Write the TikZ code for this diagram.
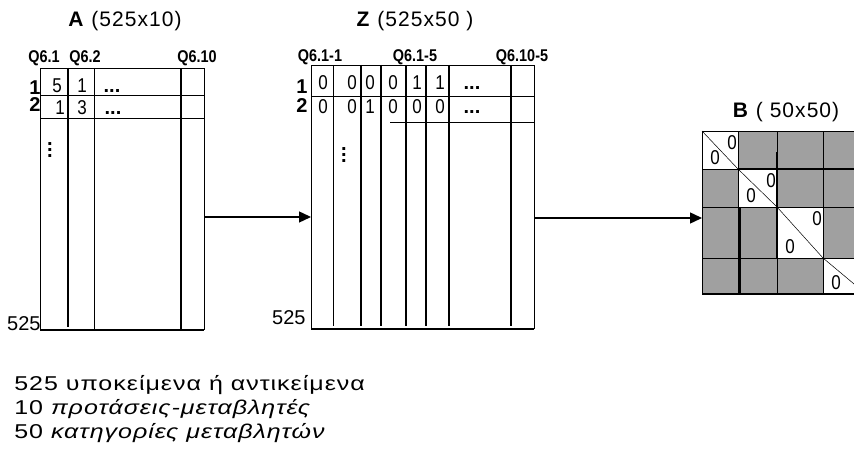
\documentclass[tikz,border=0pt]{standalone}
\usepackage{fontspec,xcolor,tikz}
\setmainfont{Liberation Sans}
\usetikzlibrary{arrows.meta}
\definecolor{ink}{HTML}{000000}
\definecolor{feld}{HTML}{A0A0A0}
\newcommand{\titel}{\fontsize{21}{24}\selectfont\addfontfeatures{LetterSpace=5}}
\newcommand{\spalte}{\fontsize{17}{20}\selectfont\bfseries}
\newcommand{\zahl}{\fontsize{20}{23}\selectfont}
\newcommand{\legende}{\fontsize{20}{24}\selectfont\addfontfeatures{LetterSpace=4}}
\newcommand{\punkte}{\vbox{\baselineskip6pt\lineskiplimit0pt\hbox{.}\hbox{.}\hbox{.}}}
\tikzset{duenn/.style={ink,line width=0.7pt},
  mittel/.style={ink,line width=1.1pt},
  dick/.style={ink,line width=1.6pt},
  pfeil/.style={ink,line width=1.4pt,-{Triangle[length=12pt,width=11pt]}},
  kopf/.style={inner sep=0,anchor=base,font=\spalte,xscale=0.85},
  wert/.style={inner sep=0,anchor=base,font=\zahl,xscale=0.85},
  zeile/.style={inner sep=0,anchor=base,font=\zahl\bfseries},
  legtext/.style={inner sep=0,anchor=base west,font=\legende,xscale=1.25}}

\begin{document}
\begin{tikzpicture}[x=1pt,y=1pt]
\useasboundingbox (0,0) rectangle (854,455);
% A (Objekte x Variablen) -> Z (Indikatormatrix) -> B = Z'Z;
% Koordinaten in Pixeln des Bildes, y nach oben
\node[inner sep=0,anchor=base,font=\titel] (titelA) at (125,428) {\textbf{A} (525x10)};
\node[kopf] (qa1) at (44,392) {Q6.1};
\node[kopf] (qa2) at (85,392) {Q6.2};
\node[kopf] (qa10) at (197,392) {Q6.10};
\draw[duenn] (40,125) -- (40,387) -- (204,387) -- (204,125);
\draw[duenn] (40,360) -- (204,360) (40,337) -- (204,337) (94,387) -- (94,125);
\draw[dick] (68,387) -- (68,128) (181,387) -- (181,125);
\draw[dick] (40,125) -- (204,125);
\node[zeile] (za1) at (35,360) {1};
\node[zeile] (za2) at (35,343) {2};
\node[wert] (a11) at (57,362) {5};
\node[wert] (a12) at (82,362) {1};
\node[inner sep=0,anchor=base,font=\zahl\bfseries] (a13) at (112,362) {...};
\node[wert] (a21) at (60,340) {1};
\node[wert] (a22) at (82,340) {3};
\node[inner sep=0,anchor=base,font=\zahl\bfseries] (a23) at (113,340) {...};
\node[inner sep=0,font=\zahl\bfseries] (apkt) at (50,305) {\punkte};
\node[inner sep=0,anchor=base west,font=\zahl] (na) at (7,124) {525};
\coordinate (A-rechts) at (204,238);
\coordinate (Z-links) at (311,238);
\draw[pfeil] (A-rechts) -- (Z-links);

\node[inner sep=0,anchor=base,font=\titel] (titelZ) at (415,428) {\textbf{Z} (525x50 )};
\node[kopf] (qz11) at (320,393) {Q6.1-1};
\node[kopf] (qz15) at (415,393) {Q6.1-5};
\node[kopf] (qz105) at (522,393) {Q6.10-5};
\draw[duenn] (311,126) -- (311,390) -- (534,390) -- (534,126);
\draw[duenn] (311,359) -- (534,359) (390,333) -- (534,333) (333,390) -- (333,129);
\foreach \sx in {361,381,426,449,511}
  \draw[mittel] (\sx,390) -- (\sx,129);
\draw[dick] (406,390) -- (406,129);
\draw[dick] (311,126) -- (534,126);
\node[zeile] (zz1) at (302,361) {1};
\node[zeile] (zz2) at (302,342) {2};
\foreach \wx/\w [count=\i] in {323/0,352/0,370/0,393/0,417/1,440/1}
  \node[wert] (z1-\i) at (\wx,365) {\w};
\foreach \wx/\w [count=\i] in {323/0,352/0,370/1,393/0,417/0,440/0}
  \node[wert] (z2-\i) at (\wx,341) {\w};
\node[inner sep=0,anchor=base,font=\zahl\bfseries] (z1-p) at (472,365) {...};
\node[inner sep=0,anchor=base,font=\zahl\bfseries] (z2-p) at (472,341) {...};
\node[inner sep=0,font=\zahl\bfseries] (zpkt) at (344,300) {\punkte};
\node[inner sep=0,anchor=base west,font=\zahl] (nz) at (272,130) {525};
\coordinate (Z-rechts) at (534,237);
\coordinate (B-links) at (702,237);
\draw[pfeil] (Z-rechts) -- (B-links);

\node[inner sep=0,anchor=base,font=\titel] (titelB) at (786,337) {\textbf{B} ( 50x50)};
\begin{scope}
\clip (0,0) rectangle (854,455);
\fill[feld] (702,161) rectangle (866,324);
\foreach \l/\r/\o/\u [count=\i] in {702/738/324/286,738/777/286/248,777/823/248/197,823/866/197/161}{
  \fill[white] (\l,\u) rectangle (\r,\o);
  \draw[ink,line width=0.5pt] (\l,\o) -- (\r,\u);
  \node[wert] (b\i-o) at (\r-6,\o-19) {0};
  \node[wert] (b\i-u) at (\l+13,\u+4) {0};
}
\draw[duenn] (702,161) rectangle (866,324);
\foreach \sx in {738,777,823}
  \draw[duenn] (\sx,161) -- (\sx,324);
\foreach \sy in {286,248,197}
  \draw[duenn] (702,\sy) -- (866,\sy);
\draw[dick] (777,303) -- (777,197) (740,248) -- (740,161) (738,286) -- (866,286);
\draw[dick] (702,161) -- (866,161);
\end{scope}

\node[legtext] (leg1) at (14,64) {525 υποκείμενα ή αντικείμενα};
\node[legtext] (leg2) at (14,40) {10 \textit{προτάσεις-μεταβλητές}};
\node[legtext] (leg3) at (14,16) {50 \textit{κατηγορίες μεταβλητών}};
\end{tikzpicture}
\end{document}
